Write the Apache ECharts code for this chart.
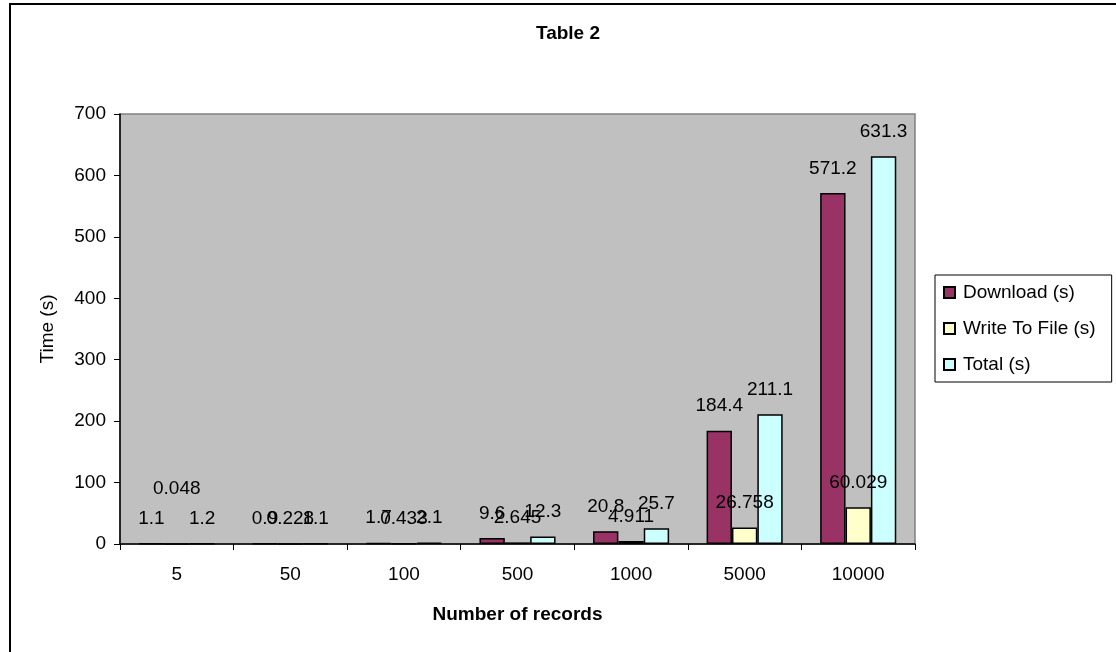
<!DOCTYPE html>
<html>
<head>
<meta charset="utf-8">
<title>Table 2</title>
<script src="https://cdn.jsdelivr.net/npm/echarts@6/dist/echarts.min.js"></script>
<style>
  html, body { margin: 0; padding: 0; background: #fff; }
  #chart { width: 1116px; height: 652px; }
</style>
</head>
<body>
<div id="chart"></div>
<script>
// Timing results per number of records
const categories = ['5', '50', '100', '500', '1000', '5000', '10000'];
const download = [1.1, 0.9, 1.7, 9.6, 20.8, 184.4, 571.2];
const writeToFile = [0.048, 0.228, 0.433, 2.645, 4.911, 26.758, 60.029];
const total = [1.2, 1.1, 2.1, 12.3, 25.7, 211.1, 631.3];
const yTicks = { min: 0, max: 700, interval: 100 };

const FONT = '"Liberation Sans", Arial, sans-serif';

function barSeries(name, values, color, raisedIndex) {
  return {
    name: name,
    type: 'bar',
    barGap: 0,
    barCategoryGap: '33%',
    itemStyle: { color: color, borderColor: '#000', borderWidth: 1.5 },
    label: {
      show: true,
      position: 'top',
      distance: 15,
      color: '#000',
      fontFamily: FONT,
      fontSize: 19
    },
    data: values.map((v, i) => (i === raisedIndex
      ? { value: v, label: { offset: [0, -30] } }
      : v))
  };
}

const chart = echarts.init(document.getElementById('chart'), null, { renderer: 'canvas' });
chart.setOption({
  backgroundColor: '#fff',
  animation: false,
  textStyle: { fontFamily: FONT, color: '#000' },
  title: {
    text: 'Table 2',
    left: 563,
    textAlign: 'center',
    top: 19,
    textStyle: { fontFamily: FONT, fontSize: 19, fontWeight: 'bold', color: '#000' }
  },
  graphic: [{
    type: 'rect',
    z: -10,
    shape: { x: 10, y: 4, width: 1130, height: 670 },
    style: { fill: 'none', stroke: '#000', lineWidth: 2 }
  }],
  legend: {
    orient: 'vertical',
    left: 935,
    top: 275,
    padding: [8, 16, 8, 8],
    itemWidth: 11,
    itemHeight: 11,
    itemGap: 17,
    icon: 'rect',
    borderColor: '#000',
    borderWidth: 1,
    backgroundColor: '#fff',
    textStyle: { fontFamily: FONT, fontSize: 19, color: '#000', padding: [0, 0, 0, 3] }
  },
  grid: {
    left: 120,
    top: 114,
    right: 201,
    bottom: 108,
    show: true,
    backgroundColor: '#C0C0C0',
    borderColor: '#808080',
    borderWidth: 1.5
  },
  xAxis: {
    type: 'category',
    data: categories,
    name: 'Number of records',
    nameLocation: 'middle',
    nameGap: 61,
    nameTextStyle: { fontFamily: FONT, fontSize: 19, fontWeight: 'bold', color: '#000' },
    axisLine: { show: true, lineStyle: { color: '#000', width: 1.5 } },
    axisTick: { show: true, alignWithLabel: false, length: 6, lineStyle: { color: '#000' } },
    axisLabel: { color: '#000', fontFamily: FONT, fontSize: 19, margin: 21 },
    splitLine: { show: false }
  },
  yAxis: {
    type: 'value',
    min: yTicks.min,
    max: yTicks.max,
    interval: yTicks.interval,
    name: 'Time (s)',
    nameLocation: 'middle',
    nameRotate: 90,
    nameGap: 63,
    nameTextStyle: { fontFamily: FONT, fontSize: 19, color: '#000' },
    axisLine: { show: true, lineStyle: { color: '#000', width: 1.5 } },
    axisTick: { show: true, length: 6, lineStyle: { color: '#000' } },
    axisLabel: { color: '#000', fontFamily: FONT, fontSize: 19, margin: 14 },
    splitLine: { show: false }
  },
  series: [
    barSeries('Download (s)', download, '#993366', -1),
    barSeries('Write To File (s)', writeToFile, '#FFFFCC', 0),
    barSeries('Total (s)', total, '#CCFFFF', -1)
  ]
});
</script>
</body>
</html>
